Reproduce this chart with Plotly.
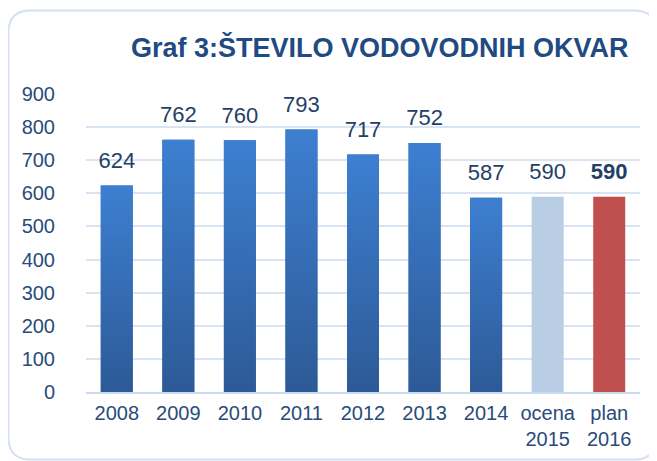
import plotly.graph_objects as go

categories = ["2008", "2009", "2010", "2011", "2012", "2013", "2014", "ocena<br>2015", "plan<br>2016"]
values = [624, 762, 760, 793, 717, 752, 587, 590, 590]
bar_colors = ["#3572BE"] * 7 + ["#B9CDE5", "#C0504D"]
gradient_bar = [True] * 7 + [False, False]
value_labels = [str(v) for v in values]
value_labels[-1] = "<b>" + value_labels[-1] + "</b>"
y_ticks = [0, 100, 200, 300, 400, 500, 600, 700, 800, 900]
title_text = "Graf 3:ŠTEVILO VODOVODNIH OKVAR"

W, H = 657, 461
OFF = 8  # page body margin
# plot area in screen pixels
SX0, SX1, SY0, SY1 = 86, 640, 94, 392
L, R, T, B = SX0 - OFF, W - (SX1 - OFF), SY0 - OFF, H - (SY1 - OFF)
pw, ph = SX1 - SX0, SY1 - SY0
BAR_W = 0.52

def px_to_paper(px, py):
    return (px - SX0) / pw, (SY1 - py) / ph

fig = go.Figure()
fig.add_trace(go.Bar(
    x=categories, y=values, marker=dict(color=bar_colors, line=dict(width=0)),
    width=BAR_W, hoverinfo="x+y",
))

# vertical gradient overlay on the blue bars (same positions via an overlaid index axis)
for i, (v, g) in enumerate(zip(values, gradient_bar)):
    if not g:
        continue
    fig.add_trace(go.Scatter(
        x=[i - BAR_W / 2, i + BAR_W / 2, i + BAR_W / 2, i - BAR_W / 2, i - BAR_W / 2],
        y=[0, 0, v, v, 0], xaxis="x2", mode="lines", line=dict(width=0),
        fill="toself",
        fillgradient=dict(type="vertical", colorscale=[[0, "#2D5A96"], [1, "#3D7FD1"]]),
        hoverinfo="skip",
    ))

fig.add_trace(go.Scatter(
    x=categories, y=values, mode="markers+text", text=value_labels,
    textposition="top center", marker=dict(size=18, opacity=0),
    textfont=dict(size=22, color="#243F66", family="Liberation Sans, Arial"),
    hoverinfo="skip", cliponaxis=False,
))

# rounded border
x0, y0 = px_to_paper(8.5, 10.5)
x1, y1 = px_to_paper(656, 459.5)
rx, ry = 22 / pw, 22 / ph
path = (f"M {x0+rx},{y0} L {x1-rx},{y0} Q {x1},{y0} {x1},{y0-ry} "
        f"L {x1},{y1+ry} Q {x1},{y1} {x1-rx},{y1} L {x0+rx},{y1} Q {x0},{y1} {x0},{y1+ry} "
        f"L {x0},{y0-ry} Q {x0},{y0} {x0+rx},{y0} Z")
fig.add_shape(type="path", path=path, xref="paper", yref="paper",
              line=dict(color="#D3E1F3", width=2), layer="below")

tx, ty = px_to_paper(380, 47)
fig.add_annotation(x=tx, y=ty, xref="paper", yref="paper", text="<b>" + title_text + "</b>",
                   showarrow=False, xanchor="center", yanchor="middle",
                   font=dict(size=27, color="#1F4A82", family="Liberation Sans, Arial"))

fig.update_layout(
    width=W, height=H, margin=dict(l=L, r=R, t=T, b=B, autoexpand=False),
    paper_bgcolor="white", plot_bgcolor="white", showlegend=False,
    font=dict(family="Liberation Sans, Arial", color="#2A4B7A", size=20),
    xaxis=dict(type="category", categoryorder="array", categoryarray=categories,
               range=[-0.5, len(categories) - 0.5], automargin=False,
               showgrid=False, showline=True, linecolor="#C9DAEF", linewidth=2,
               ticks="outside", ticklen=2, tickcolor="rgba(0,0,0,0)",
               tickfont=dict(size=20, color="#2A4B7A")),
    xaxis2=dict(overlaying="x", range=[-0.5, len(categories) - 0.5], visible=False,
                automargin=False),
    yaxis=dict(range=[0, 900], tickvals=y_ticks, showgrid=True, gridcolor="#D8E4F3", gridwidth=2,
               zeroline=False, showline=False, ticks="outside", ticklen=26, automargin=False,
               tickcolor="rgba(0,0,0,0)", tickfont=dict(size=20, color="#2A4B7A")),
)

fig.write_html("out.html")
